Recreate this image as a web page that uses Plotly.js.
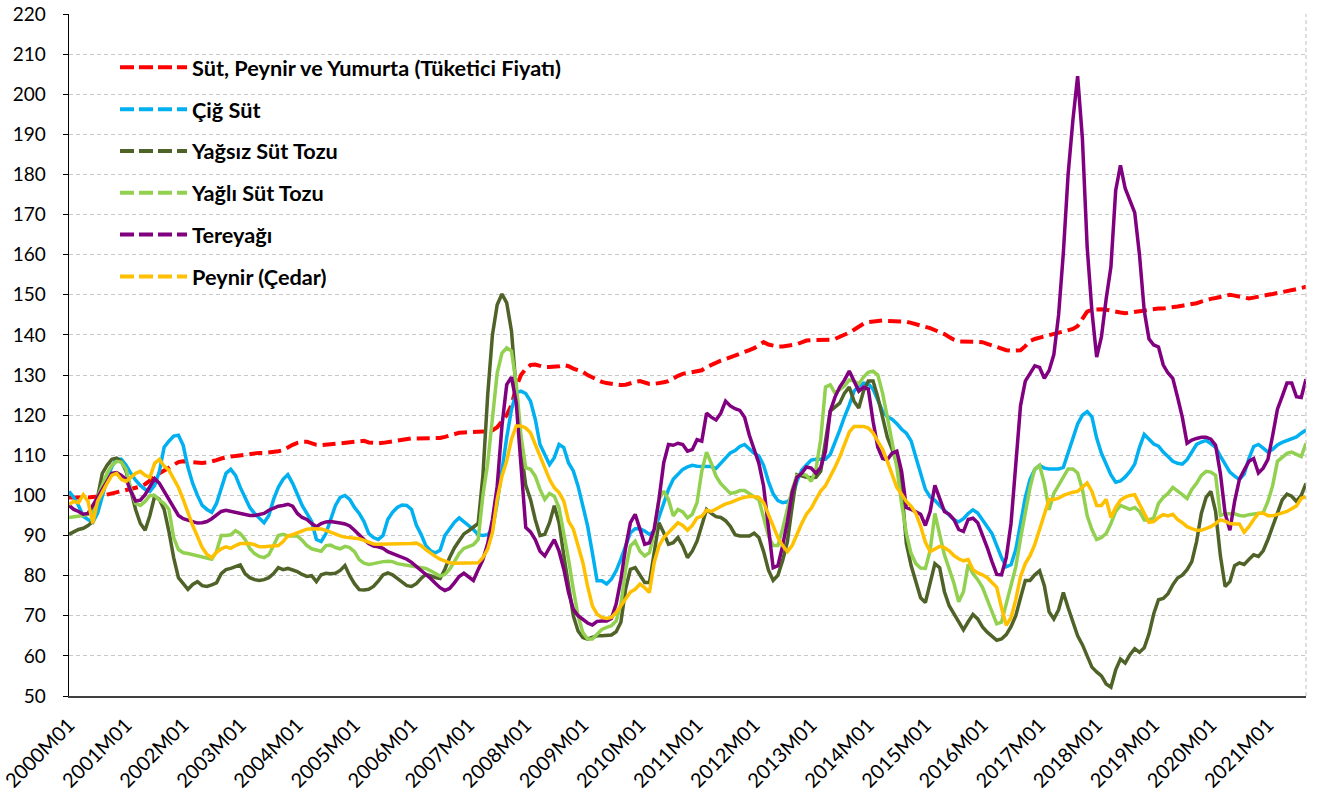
<!DOCTYPE html>
<html><head><meta charset="utf-8">
<script src="https://cdn.plot.ly/plotly-3.0.1.min.js"></script>
<style>html,body{margin:0;padding:0;background:#fff}#chart{width:1317px;height:801px}</style>
</head><body><div id="chart"></div>
<script>
// Monthly categories 2000M01 .. 2021M09
const startYear = 2000;
const monthCount = 261;
const months = [];
for (let k = 0; k < monthCount; k++) {
  const yr = startYear + Math.floor(k / 12), mo = (k % 12) + 1;
  months.push(yr + 'M' + (mo < 10 ? '0' : '') + mo);
}
const tickLabels = months.filter((m, k) => k % 12 === 0);

const seriesNames = ['Süt, Peynir ve Yumurta (Tüketici Fiyatı)', 'Çiğ Süt', 'Yağsız Süt Tozu', 'Yağlı Süt Tozu', 'Tereyağı', 'Peynir (Çedar)'];

const sutPeynirYumurta = [
99.5,99.5,99.3,99.4,99.5,99.6,99.7,99.8,100.2,100.5,100.8,101.0,
101.3,101.6,101.9,102.2,102.8,103.8,104.8,105.5,106.2,107.0,107.8,108.3,
108.5,108.4,108.2,108.1,108.1,108.2,108.4,108.8,109.2,109.5,109.7,109.8,
110.0,110.2,110.4,110.5,110.6,110.6,110.7,110.8,111.0,111.3,112.0,112.6,
113.1,113.4,113.4,113.0,112.6,112.5,112.6,112.7,112.9,113.0,113.1,113.2,
113.3,113.5,113.6,113.2,113.0,113.0,113.1,113.3,113.6,113.8,114.0,114.1,
114.2,114.2,114.2,114.1,114.1,114.2,114.3,114.6,115.0,115.3,115.6,115.7,
115.7,115.7,115.8,115.9,116.0,116.2,117.0,118.5,120.0,122.5,127.0,130.0,
131.5,132.5,132.6,132.3,132.0,132.0,132.0,132.2,132.5,132.2,131.6,131.2,
130.8,130.0,129.4,128.8,128.3,128.0,127.8,127.6,127.5,127.6,128.0,128.3,
128.5,128.2,127.8,127.8,127.9,128.2,128.5,129.2,129.8,130.3,130.5,130.7,
131.0,131.2,132.0,132.6,133.2,133.6,134.0,134.4,134.9,135.2,135.7,136.2,
136.7,137.5,138.2,137.6,137.3,137.1,137.1,137.2,137.5,137.7,138.2,138.6,
138.7,138.7,138.7,138.7,138.8,139.0,139.5,140.0,140.6,141.3,142.2,142.8,
143.2,143.4,143.6,143.6,143.5,143.5,143.5,143.4,143.3,143.0,142.6,142.3,
142.0,141.7,141.2,140.8,140.2,139.5,138.8,138.4,138.4,138.4,138.4,138.3,
138.2,137.8,137.4,137.1,136.6,136.2,136.1,136.1,136.2,137.2,138.5,139.0,
139.3,139.6,140.0,140.3,140.7,140.9,141.2,141.5,142.2,144.0,145.8,146.3,
146.4,146.4,146.3,146.0,145.7,145.6,145.4,145.6,145.7,145.9,146.2,146.4,
146.5,146.6,146.6,146.7,146.9,147.1,147.3,147.5,147.6,147.9,148.3,148.7,
149.0,149.2,149.5,149.8,150.0,149.8,149.5,149.3,149.1,149.3,149.6,149.8,
150.0,150.2,150.4,150.6,150.8,151.1,151.4,151.7,152.0];

const cigSut = [
101.0,99.5,97.5,94.8,94.0,93.3,95.5,99.5,104.0,107.2,109.0,109.0,
107.5,105.5,103.8,102.5,101.5,101.0,102.5,106.0,112.0,113.5,114.8,115.0,
112.5,107.0,103.0,100.0,97.5,96.5,95.8,98.0,102.0,105.5,106.5,105.0,
102.0,99.5,97.0,95.5,94.2,93.2,95.0,99.0,102.0,104.0,105.2,103.0,
100.3,97.5,95.5,93.5,89.0,88.5,90.5,94.0,97.5,99.5,100.0,99.0,
97.0,95.5,93.5,90.5,89.5,89.0,90.0,94.0,95.8,97.0,97.6,97.5,
96.5,92.6,90.3,87.5,86.2,85.7,86.3,90.0,91.8,93.3,94.4,93.5,
92.6,91.5,90.2,90.0,90.2,91.5,98.2,106.5,114.4,121.4,125.6,126.0,
125.4,123.5,119.0,112.7,110.2,107.7,109.4,112.7,111.9,108.1,106.1,102.3,
97.4,92.4,85.7,78.7,78.7,77.9,79.1,81.2,84.1,87.4,90.7,91.7,
91.7,91.1,90.3,91.1,94.4,98.2,101.5,104.0,105.2,106.5,107.1,107.5,
107.3,107.3,107.3,107.2,106.7,108.0,109.6,110.6,111.2,112.2,112.7,111.6,
110.5,109.8,107.5,103.5,100.4,98.7,98.2,98.4,99.6,103.5,106.3,107.6,
108.8,109.0,108.9,109.0,110.2,113.1,116.3,119.6,122.5,126.0,127.2,128.0,
127.8,126.5,123.5,121.0,119.6,119.0,117.9,116.5,115.5,113.6,109.5,105.5,
101.5,99.6,98.8,97.5,96.2,95.0,93.9,93.4,94.2,95.5,96.4,95.6,
94.0,92.4,90.5,87.5,84.5,82.2,82.7,86.5,92.5,99.5,104.0,106.5,
107.5,106.8,106.6,106.6,106.6,107.0,110.5,113.9,117.8,120.0,120.9,119.6,
114.3,110.5,107.5,105.1,103.3,103.6,104.6,106.0,107.8,112.0,115.2,114.0,
112.8,112.3,110.8,109.7,108.5,108.0,107.8,108.9,111.0,112.7,113.3,113.7,
112.9,112.0,109.8,107.6,105.8,104.8,104.0,105.3,109.2,112.2,112.7,111.8,
110.8,111.5,112.6,113.2,113.6,114.0,114.6,115.5,116.3];

const yagsizSutTozu = [
90.3,91.0,91.5,91.8,92.5,93.5,99.0,105.5,107.5,109.0,109.3,108.5,
106.0,101.5,96.5,93.0,91.3,95.0,99.8,99.0,96.5,91.0,84.5,79.5,
78.0,76.6,77.8,78.5,77.5,77.3,77.7,78.2,80.5,81.5,81.8,82.2,
82.7,80.5,79.5,79.0,78.8,79.0,79.5,80.5,82.0,81.5,81.8,81.4,
81.0,80.3,79.8,80.0,78.5,80.2,80.6,80.5,80.6,81.3,82.5,80.0,
78.0,76.5,76.4,76.6,77.3,78.6,80.2,80.7,80.2,79.3,78.3,77.5,
77.3,78.0,79.3,80.3,80.0,79.5,79.3,81.6,84.5,86.9,88.7,90.4,
91.2,92.0,93.0,105.0,125.0,140.0,147.5,150.2,148.0,141.0,125.0,111.5,
102.5,99.0,94.0,90.0,90.3,93.2,97.4,93.2,85.0,77.4,70.0,66.2,
64.6,64.2,64.6,65.0,65.0,65.0,65.2,66.0,68.4,76.7,81.6,82.0,
80.3,78.3,78.3,85.7,93.2,90.7,87.8,88.2,89.5,87.4,84.5,86.1,
88.6,92.5,96.5,95.5,94.7,94.5,93.7,92.3,90.2,89.9,89.9,89.9,
90.6,89.5,86.0,81.4,78.8,80.1,83.8,88.5,97.2,105.2,104.9,104.5,
104.4,104.5,106.0,114.0,121.0,122.0,123.0,125.5,127.0,123.5,121.8,126.0,
128.5,128.5,124.5,119.5,114.5,111.5,108.0,102.0,88.0,82.5,78.5,74.5,
73.3,78.5,83.0,82.0,76.0,72.5,70.5,68.5,66.5,68.5,70.3,69.2,
67.2,65.9,64.8,63.9,64.2,65.3,67.3,70.0,74.5,78.8,78.8,80.2,
81.2,77.5,71.0,69.2,71.5,75.8,72.0,68.3,65.0,62.8,59.8,57.2,
56.0,55.0,53.0,52.2,56.5,59.2,58.2,60.3,61.8,60.9,62.0,65.5,
70.5,74.0,74.3,75.5,77.7,79.4,80.1,81.5,83.5,88.5,95.5,99.5,
101.0,96.0,85.0,77.3,78.5,82.5,83.2,82.8,84.0,85.2,84.8,86.2,
89.0,92.5,96.0,98.9,100.3,99.8,98.5,100.0,103.0];

const yagliSutTozu = [
94.5,94.6,94.8,95.0,95.3,95.8,99.5,102.5,105.5,107.5,108.5,108.3,
106.5,101.5,98.0,97.5,98.5,100.0,100.0,98.8,98.0,96.5,89.5,86.5,
85.7,85.5,85.2,85.0,84.6,84.2,84.1,86.0,90.0,90.0,90.2,91.2,
90.5,89.0,86.8,85.5,84.8,84.5,85.2,87.5,90.0,90.3,89.9,89.9,
89.9,88.8,87.5,86.7,86.3,86.1,87.5,87.6,87.0,86.7,87.3,87.0,
86.0,84.0,83.1,82.8,83.0,83.3,83.5,83.6,83.5,83.0,82.8,82.6,
82.4,82.3,82.0,81.8,81.2,80.5,79.9,80.3,81.6,83.5,85.5,86.8,
87.3,87.7,89.0,100.0,108.0,118.9,130.5,135.5,136.8,136.0,128.0,114.8,
106.9,106.5,104.8,101.5,99.0,100.5,99.8,96.9,90.7,84.0,76.6,70.0,
65.8,64.2,64.2,65.4,66.6,67.1,67.5,68.7,72.9,81.6,87.4,88.6,
86.1,84.9,85.7,90.7,99.0,101.1,99.0,94.9,96.5,95.9,94.4,95.3,
98.2,106.0,110.8,108.0,104.8,102.9,101.6,100.5,100.7,101.2,101.2,100.5,
99.8,98.9,94.5,89.9,87.5,87.5,91.7,96.5,101.5,105.0,105.3,105.0,
103.5,106.5,114.0,127.0,127.6,125.5,126.5,127.3,128.8,128.5,127.8,129.5,
130.7,131.0,130.0,125.5,119.5,113.0,107.0,98.0,90.5,85.5,83.0,81.9,
81.8,86.3,95.5,90.3,85.2,81.7,78.1,73.5,76.0,82.8,80.5,79.0,
77.1,74.0,71.0,68.0,68.4,73.0,78.1,82.2,89.3,96.0,102.0,106.6,
107.5,103.0,96.4,100.5,102.5,104.6,106.6,106.6,105.6,101.5,95.0,91.5,
89.0,89.5,90.5,93.0,96.0,97.5,97.0,96.5,97.0,96.0,93.9,93.9,
94.4,98.0,99.5,100.5,102.0,101.2,100.2,99.2,101.5,103.0,105.0,106.0,
105.8,105.0,95.0,95.4,95.4,95.4,95.0,94.9,95.2,95.4,95.4,95.7,
98.5,102.5,108.5,109.5,110.5,110.8,110.3,109.7,113.0];

const tereyagi = [
97.5,96.5,96.0,95.3,95.5,97.5,99.8,101.5,103.5,105.5,105.7,105.0,
104.0,101.0,98.6,98.8,100.2,102.3,104.2,103.0,101.0,99.0,97.0,95.0,
94.2,93.8,93.3,93.1,93.2,93.5,94.2,95.2,96.0,96.3,96.0,95.7,
95.4,95.2,95.0,95.0,95.3,95.5,96.3,96.8,97.3,97.5,97.8,97.3,
95.5,94.5,94.0,93.0,92.2,93.0,93.4,93.5,93.4,93.1,92.9,92.4,
91.3,90.0,89.0,88.0,87.4,87.2,86.8,86.0,85.5,84.9,84.5,84.1,
83.3,82.3,81.5,80.5,79.3,78.1,77.0,76.3,76.8,78.2,79.8,80.6,
79.8,78.8,81.5,84.0,88.0,94.0,102.3,117.3,127.6,129.5,123.1,108.1,
92.0,90.9,89.0,86.1,84.9,87.0,89.0,86.1,81.6,75.8,71.6,70.0,
69.0,68.2,67.7,68.6,68.7,68.7,69.3,72.9,79.1,87.0,93.2,95.3,
91.6,87.8,88.2,91.6,99.0,108.1,112.7,112.5,113.0,112.7,111.0,111.4,
113.9,113.5,120.5,119.5,118.8,120.5,123.5,122.3,121.6,121.2,119.5,115.0,
111.5,108.0,102.3,91.6,82.0,82.5,87.5,93.5,100.8,104.5,105.5,107.1,
106.8,105.5,107.0,111.0,121.0,124.5,127.0,128.8,131.0,128.5,126.0,127.0,
126.5,118.5,112.0,109.2,108.9,110.5,111.0,106.0,97.0,96.5,95.8,95.3,
92.5,96.0,102.5,99.0,96.0,95.3,94.0,91.5,91.0,94.0,94.3,93.2,
90.2,87.0,83.5,80.3,80.2,84.5,93.0,108.5,122.4,128.5,130.6,132.3,
131.9,129.2,131.1,135.1,145.0,160.5,180.0,193.5,204.5,189.0,162.0,146.0,
134.5,139.5,149.0,157.0,176.0,182.3,176.5,173.5,170.5,160.0,146.0,139.0,
137.5,137.0,132.5,130.5,129.2,124.5,119.5,113.0,113.8,114.2,114.5,114.5,
114.0,112.5,105.5,95.5,91.3,98.5,104.0,106.3,108.5,109.2,105.6,106.8,
109.0,115.0,121.5,124.7,128.0,128.0,124.6,124.4,129.0];

const peynirCedar = [
97.8,98.5,98.2,100.2,98.5,93.0,98.5,101.0,103.0,105.0,105.5,104.0,
103.5,104.5,105.5,106.0,105.0,104.5,108.0,109.0,107.3,106.3,104.0,102.0,
99.0,95.5,92.5,89.8,87.0,85.3,84.5,85.8,86.7,87.2,86.8,87.5,
88.0,88.0,88.0,87.7,87.2,87.2,87.3,87.4,87.5,88.5,89.9,90.2,
90.7,91.2,91.6,91.7,91.7,91.6,91.3,90.8,90.3,89.9,89.6,89.5,
89.5,89.2,88.8,88.3,87.9,87.8,87.8,87.8,87.8,87.8,87.8,87.8,
88.0,88.1,87.5,86.5,85.6,84.8,84.1,83.6,83.2,83.1,83.1,83.1,
83.1,83.1,83.2,84.5,86.6,90.7,99.0,104.8,108.6,114.0,117.3,117.3,
116.8,115.6,112.7,109.8,106.5,104.0,101.9,100.7,98.6,93.6,91.6,87.4,
83.3,77.4,72.5,70.4,69.6,69.3,69.6,70.8,72.5,74.5,75.9,76.6,
77.9,77.0,75.8,83.3,87.4,89.5,90.7,92.0,93.2,92.5,91.3,92.5,
94.4,94.8,96.3,96.0,96.7,97.3,97.9,98.2,98.8,99.2,99.5,99.8,
99.7,99.5,98.2,95.3,92.0,89.5,87.5,86.0,87.5,90.3,93.0,95.3,
96.8,99.0,101.1,102.4,104.5,107.0,109.6,113.0,115.8,117.2,117.3,117.2,
116.8,115.6,113.5,111.5,108.5,105.0,102.0,100.3,98.5,97.3,95.5,92.3,
88.3,86.0,86.7,87.3,87.0,86.2,85.0,84.2,83.7,84.0,81.5,80.7,
80.2,79.5,78.3,77.1,72.0,67.6,69.5,74.0,79.8,83.0,85.0,87.8,
91.5,95.5,99.0,99.0,99.3,100.0,100.5,100.8,101.0,102.0,103.1,101.0,
97.5,97.5,99.0,94.5,97.0,98.8,99.6,100.0,100.2,97.8,95.3,93.3,
93.5,94.5,95.2,94.9,95.3,94.0,93.2,92.2,91.7,91.3,91.3,91.7,
92.2,93.0,93.9,93.6,93.0,92.9,92.9,90.8,92.2,94.0,95.5,95.6,
94.9,94.9,95.2,95.5,96.0,96.7,97.4,99.3,99.7];

const seriesValues = [sutPeynirYumurta, cigSut, yagsizSutTozu, yagliSutTozu, tereyagi, peynirCedar];
const seriesColors = ['#FF0000', '#00B0F0', '#4F6228', '#92D050', '#800080', '#FFC000'];

const traces = [];
seriesValues.forEach((vals, k) => {
  traces.push({
    type: 'scatter', mode: 'lines', x: months, y: vals, name: seriesNames[k],
    line: {color: seriesColors[k], width: k === 0 ? 4 : 3.5, dash: k === 0 ? '13px,6px' : 'solid'},
    showlegend: false
  });
});
// legend entries (dashed samples as in the original legend)
seriesValues.forEach((vals, k) => {
  traces.push({
    type: 'scatter', mode: 'lines', x: [months[0]], y: [null], name: seriesNames[k],
    legendgroup: 'g' + k, hoverinfo: 'skip',
    line: {color: seriesColors[k], width: 4, dash: '14px,5px'},
    showlegend: true
  });
});

const layout = {
  width: 1317, height: 801,
  margin: {l: 69, r: 11, t: 14, b: 105},
  paper_bgcolor: '#ffffff', plot_bgcolor: '#ffffff',
  font: {family: 'Lato, "Open Sans", sans-serif', color: '#000000'},
  showlegend: true,
  legend: {
    x: 0.0372, y: 0.952, xanchor: 'left', yanchor: 'top',
    font: {size: 21.7, weight: 'bold', color: '#000000'},
    itemwidth: 67, tracegroupgap: 10.6, traceorder: 'grouped',
    bgcolor: 'rgba(0,0,0,0)', borderwidth: 0
  },
  xaxis: {
    type: 'category', range: [0, monthCount - 1],
    tickmode: 'array', tickvals: tickLabels, ticktext: tickLabels,
    tickangle: -45, tickfont: {size: 20},
    showgrid: false, showline: true, linecolor: '#404040', linewidth: 1.5,
    ticks: '', ticklabelstandoff: 8, zeroline: false, automargin: false
  },
  yaxis: {
    range: [50, 220], tick0: 50, dtick: 10, tickfont: {size: 19},
    showgrid: true, gridcolor: '#c8c8c8', gridwidth: 1, griddash: '4px,3px',
    showline: true, linecolor: '#000000', linewidth: 1.5,
    ticks: 'outside', ticklen: 5, tickcolor: '#000000',
    ticklabelstandoff: 13, zeroline: false, automargin: false
  },
  shapes: [{type: 'line', xref: 'paper', yref: 'paper', x0: 1, x1: 1, y0: 0, y1: 1,
            line: {color: '#bfbfbf', width: 1, dash: '4px,3px'}}]
};

Plotly.newPlot('chart', traces, layout, {displayModeBar: false, staticPlot: true});
</script>
</body></html>
